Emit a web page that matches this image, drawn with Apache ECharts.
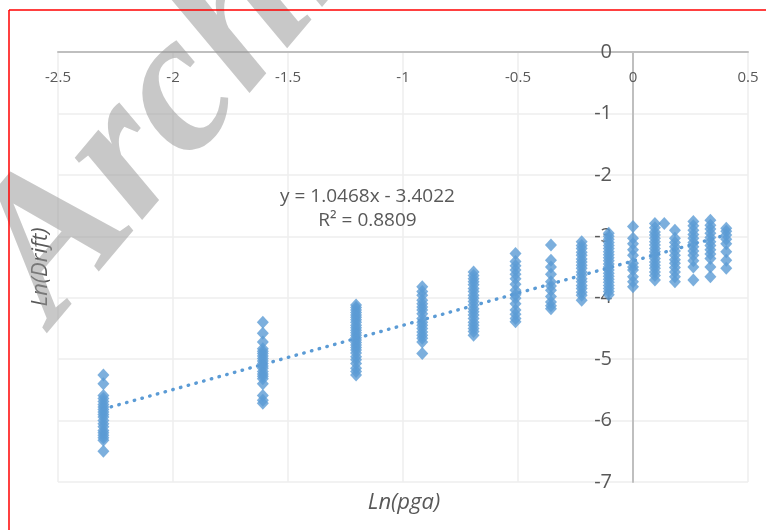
<!DOCTYPE html>
<html><head><meta charset="utf-8">
<script src="https://cdn.jsdelivr.net/npm/echarts@6/dist/echarts.min.js"></script>
<style>html,body{margin:0;padding:0;background:#fff;}#c{width:766px;height:530px;}</style>
</head><body><div id="c"></div>
<script>
const xTicks = [-2.5, -2, -1.5, -1, -0.5, 0, 0.5];
const yTicks = [0, -1, -2, -3, -4, -5, -6, -7];
const lnPga = [-2.3026, -1.6094, -1.2040, -0.9163, -0.6931, -0.5108, -0.3567, -0.2231, -0.1054, 0, 0.0953, 0.1823, 0.2624, 0.3365, 0.4055];
const lnDrift = [
  [-5.26, -5.40, -5.59, -5.64, -5.69, -5.74, -5.78, -5.82, -5.86, -5.90, -5.94, -6.00, -6.05, -6.10, -6.16, -6.20, -6.24, -6.28, -6.32, -6.50],
  [-4.40, -4.58, -4.72, -4.83, -4.87, -4.91, -4.95, -4.99, -5.03, -5.07, -5.11, -5.15, -5.20, -5.24, -5.28, -5.32, -5.40, -5.59, -5.67, -5.72],
  [-4.12, -4.16, -4.20, -4.24, -4.28, -4.32, -4.36, -4.40, -4.45, -4.49, -4.53, -4.57, -4.61, -4.65, -4.69, -4.73, -4.77, -4.81, -4.85, -4.90, -4.96, -5.01, -5.07, -5.15, -5.20, -5.26],
  [-3.82, -3.90, -3.96, -4.04, -4.10, -4.15, -4.20, -4.26, -4.34, -4.40, -4.45, -4.50, -4.56, -4.61, -4.66, -4.72, -4.91],
  [-3.58, -3.64, -3.69, -3.74, -3.79, -3.85, -3.90, -3.96, -4.01, -4.06, -4.12, -4.18, -4.23, -4.28, -4.34, -4.40, -4.45, -4.50, -4.55, -4.61],
  [-3.28, -3.41, -3.48, -3.55, -3.62, -3.69, -3.78, -3.88, -3.95, -4.01, -4.10, -4.20, -4.27, -4.34, -4.39],
  [-3.14, -3.39, -3.50, -3.62, -3.74, -3.81, -3.88, -3.98, -4.07, -4.13, -4.18],
  [-3.09, -3.15, -3.20, -3.26, -3.31, -3.37, -3.42, -3.47, -3.52, -3.58, -3.63, -3.69, -3.74, -3.80, -3.85, -3.91, -3.96, -4.04],
  [-2.95, -3.00, -3.05, -3.10, -3.15, -3.20, -3.25, -3.30, -3.35, -3.40, -3.45, -3.50, -3.55, -3.60, -3.65, -3.70, -3.75, -3.80, -3.85, -3.90, -3.95],
  [-2.84, -3.03, -3.12, -3.22, -3.31, -3.44, -3.50, -3.55, -3.66, -3.74, -3.82],
  [-2.79, -2.86, -2.93, -2.98, -3.03, -3.09, -3.14, -3.20, -3.25, -3.30, -3.36, -3.42, -3.47, -3.52, -3.58, -3.64, -3.71],
  [-2.90, -3.03, -3.10, -3.17, -3.24, -3.31, -3.38, -3.44, -3.51, -3.58, -3.66, -3.74],
  [-2.76, -2.83, -2.90, -2.97, -3.03, -3.10, -3.17, -3.24, -3.31, -3.40, -3.50, -3.71],
  [-2.74, -2.82, -2.88, -2.95, -3.02, -3.09, -3.15, -3.22, -3.29, -3.36, -3.50, -3.66],
  [-2.87, -2.92, -2.98, -3.05, -3.12, -3.25, -3.39, -3.52]
];
const extraPoints = [[0.136, -2.79]];
const trendX = [-2.3026, 0.4055];
const trendY = [-5.812, -2.978];
const equationText = 'y = 1.0468x - 3.4022';
const r2Text = 'R² = 0.8809';
const xTitle = 'Ln(pga)';
const yTitle = 'Ln(Drift)';
const watermark = 'Archive';

const scatterData = [];
lnPga.forEach((x, i) => lnDrift[i].forEach(y => scatterData.push([x, y])));
extraPoints.forEach(p => scatterData.push(p));
const trendData = trendX.map((x, i) => [x, trendY[i]]);

const FONT = 'Open Sans';
const GL = 58, GR = 18, GT = 52, GB = 48;
const plotW = 766 - GL - GR;
// y axis sits at x = 0 : offset it inwards from the left edge
const yAxisOffset = -plotW * (0 - xTicks[0]) / (xTicks[xTicks.length - 1] - xTicks[0]);

const chart = echarts.init(document.getElementById('c'), null, {renderer: 'canvas'});
chart.setOption({
  animation: false,
  backgroundColor: '#ffffff',
  grid: {left: GL, right: GR, top: GT, bottom: GB},
  xAxis: {
    type: 'value', min: xTicks[0], max: xTicks[xTicks.length - 1], interval: 0.5,
    position: 'top',
    axisLine: {show: true, onZero: false, lineStyle: {color: '#bfbfbf', width: 2}},
    axisTick: {show: false},
    axisLabel: {inside: true, color: '#595959', fontSize: 15, fontFamily: FONT, margin: 18},
    splitLine: {show: true, lineStyle: {color: '#eeeeee', width: 1.5}}
  },
  yAxis: {
    type: 'value', min: yTicks[yTicks.length - 1], max: yTicks[0], interval: 1,
    position: 'left', offset: yAxisOffset,
    axisLine: {show: true, onZero: false, lineStyle: {color: '#bfbfbf', width: 2}},
    axisTick: {show: false},
    axisLabel: {color: '#595959', fontSize: 20, fontFamily: FONT, margin: 21},
    splitLine: {show: true, lineStyle: {color: '#eeeeee', width: 1.5}}
  },
  series: [
    {
      type: 'scatter', data: scatterData, symbol: 'diamond', symbolSize: [12, 13],
      itemStyle: {color: '#5b9bd5'}, z: 2
    },
    {
      type: 'line', data: trendData, showSymbol: false, symbol: 'none',
      lineStyle: {color: '#5b9bd5', width: 3.4, type: [0.5, 7.5], cap: 'round'}, z: 3
    }
  ],
  graphic: [
    {type: 'text', z: 10, x: 367.5, y: 197,
      style: {text: equationText, fill: '#595959', font: '19px "' + FONT + '"', align: 'center', verticalAlign: 'middle'}},
    {type: 'text', z: 10, x: 367.5, y: 221,
      style: {text: r2Text, fill: '#595959', font: '19px "' + FONT + '"', align: 'center', verticalAlign: 'middle'}},
    {type: 'text', z: 10, x: 404, y: 503,
      style: {text: xTitle, fill: '#595959', font: 'italic 22px "' + FONT + '"', align: 'center', verticalAlign: 'middle'}},
    {type: 'text', z: 10, x: 41, y: 267, rotation: Math.PI / 2,
      style: {text: yTitle, fill: '#595959', font: 'italic 22px "' + FONT + '"', align: 'center', verticalAlign: 'middle'}},
    {type: 'text', z: 20, x: 14, y: 292, rotation: 0.87,
      style: {text: watermark, fill: 'rgba(150,150,150,0.52)', font: 'bold italic 200px "Liberation Serif"', align: 'left', verticalAlign: 'middle'}},
    {type: 'line', z: 30, shape: {x1: 9, y1: 10, x2: 766, y2: 10}, style: {stroke: '#ff0000', lineWidth: 1.5}},
    {type: 'line', z: 30, shape: {x1: 9, y1: 10, x2: 9, y2: 530}, style: {stroke: '#ff0000', lineWidth: 1.5}}
  ]
});
</script></body></html>
